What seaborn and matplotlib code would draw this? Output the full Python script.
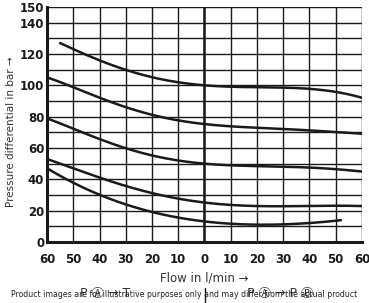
import matplotlib
matplotlib.use("Agg")
import matplotlib.pyplot as plt
import seaborn as sns
import pandas as pd
import numpy as np

# Flow (negative = left half, P(A)->T; positive = right half)
flow = [-60, -50, -40, -30, -20, -10, 0, 10, 20, 30, 40, 50, 60]
curve1 = [None, 123, 116, 110, 105, 102, 100, 99, 99, 98.5, 97.5, 96, 92]
curve2 = [105, 99, 92, 86, 81, 78, 75, 74, 73, 72, 71, 70.5, 69]
curve3 = [79, 72, 66, 60, 55, 52, 50, 49, 48.5, 48, 47.5, 46.5, 45]
curve4 = [53, 47, 41, 36, 31, 28, 25, 23.5, 23, 23, 23, 23, 23]
curve5 = [47, 38, 30, 24, 19, 16, 13, 11.5, 11, 11.5, 12, 13.5, None]
c1_start = (-55, 127)
c5_end = (52, 14)

xticks = list(range(-60, 61, 10))
xticklabels = [str(abs(v)) for v in xticks]
yticks = [0, 20, 40, 60, 80, 100, 120, 140, 150]

rows = []
for name, vals in [("c1", curve1), ("c2", curve2), ("c3", curve3), ("c4", curve4), ("c5", curve5)]:
    pts = [(x, y) for x, y in zip(flow, vals) if y is not None]
    if name == "c1":
        pts = [c1_start] + pts
    if name == "c5":
        pts = pts + [c5_end]
    for x, y in pts:
        rows.append({"curve": name, "flow": x, "dp": y})
df = pd.DataFrame(rows)

sns.set_theme(style="white")
plt.rcParams['font.family'] = ['DejaVu Sans', 'Noto Sans CJK JP']

fig = plt.figure(figsize=(3.69, 3.03), dpi=100)
ax = fig.add_axes([0.1274, 0.2013, 0.8536, 0.7757])

smooth = []
for name, g in df.groupby("curve"):
    xs = g["flow"].to_numpy(float)
    ys = g["dp"].to_numpy(float)
    xx = np.linspace(xs.min(), xs.max(), 200)
    coef = np.polyfit(xs, ys, min(5, len(xs) - 1))
    yy = np.polyval(coef, xx)
    smooth.append(pd.DataFrame({"curve": name, "flow": xx, "dp": yy}))
sdf = pd.concat(smooth)

sns.lineplot(data=sdf, x="flow", y="dp", units="curve", estimator=None,
             color="#1a1a1a", lw=1.8, ax=ax, sort=True)

ax.set_xlim(-60, 60)
ax.set_ylim(0, 150)
ax.set_xticks(xticks)
ax.set_xticklabels(xticklabels)
ax.set_yticks(yticks)
ax.set_xticks(range(-60, 61, 10), minor=True)
ax.set_yticks(range(0, 151, 10), minor=True)
ax.grid(which="both", color="#1a1a1a", lw=1.0)
ax.set_axisbelow(True)
ax.axvline(0, color="#1a1a1a", lw=1.8)
for s in ["top", "right"]:
    ax.spines[s].set_visible(False)
for s in ["left", "bottom"]:
    ax.spines[s].set_color("#1a1a1a")
    ax.spines[s].set_linewidth(2.2)
ax.tick_params(axis="both", which="both", length=0, labelsize=8.5, colors="#1a1a1a")
ax.tick_params(axis="x", pad=8)
ax.tick_params(axis="y", pad=2)
for lab in ax.get_xticklabels() + ax.get_yticklabels():
    lab.set_fontweight("bold")
ax.set_xlabel("Flow in l/min →", fontsize=8.5, color="#333333", labelpad=4)
ax.set_ylabel("Pressure differential in bar →", fontsize=7.5, color="#333333")
ax.yaxis.set_label_coords(-0.098, 0.47)

fig.text(0.285, 0.032, "P Ⓐ → T", fontsize=9, color="#333333", ha="center", va="center")
fig.text(0.76, 0.032, "P Ⓐ → P Ⓑ", fontsize=9, color="#333333", ha="center", va="center")
fig.add_artist(plt.Line2D([0.5556, 0.5556], [0.0, 0.05], color="#1a1a1a", lw=1.0))
fig.text(0.5, 0.028, "Product images are for illustrative purposes only and may differ from the actual product",
         fontsize=5.6, color="#222222", ha="center", va="center")

fig.savefig("out.png", dpi=100)
